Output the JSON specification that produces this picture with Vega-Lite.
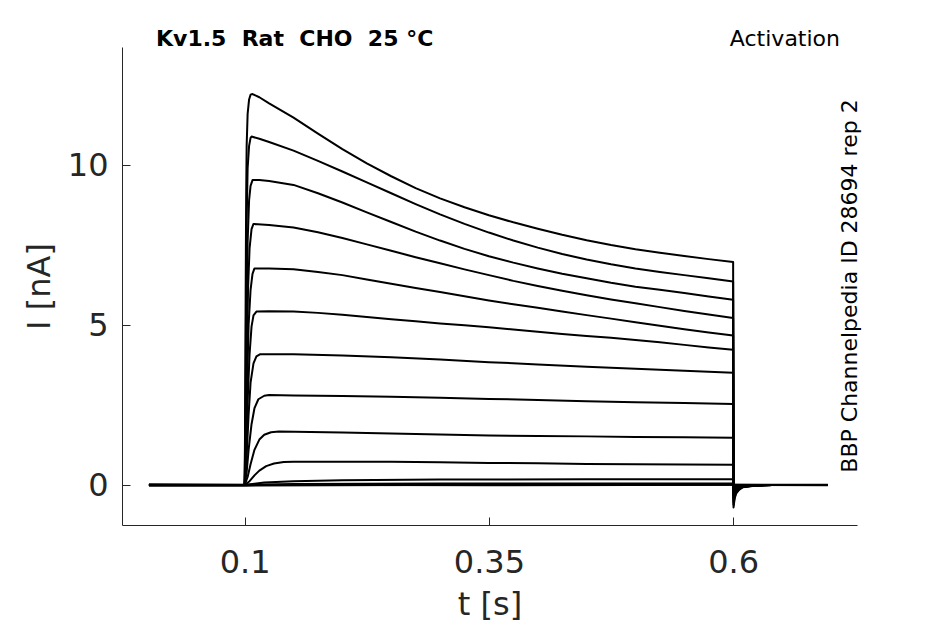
{
  "$schema": "https://vega.github.io/schema/vega-lite/v6.json",
  "autosize": {"type": "none"},
  "width": 735,
  "height": 478,
  "padding": {"left": 122, "top": 47, "right": 88, "bottom": 99},
  "background": "white",
  "layer": [
    {
      "data": {
        "values": [
          {"s":1,"t":0.002,"i":0},{"s":1,"t":0.05,"i":0},{"s":1,"t":0.1,"i":0},{"s":1,"t":0.1005,"i":2.5},{"s":1,"t":0.101,"i":6},{"s":1,"t":0.1015,"i":9},{"s":1,"t":0.102,"i":10.6},{"s":1,"t":0.103,"i":11.6},{"s":1,"t":0.1045,"i":12.05},{"s":1,"t":0.106,"i":12.2},{"s":1,"t":0.108,"i":12.22},{"s":1,"t":0.115,"i":12.12},{"s":1,"t":0.125,"i":11.93},{"s":1,"t":0.15,"i":11.48},{"s":1,"t":0.175,"i":10.98},{"s":1,"t":0.2,"i":10.5},{"s":1,"t":0.225,"i":10.05},{"s":1,"t":0.25,"i":9.65},{"s":1,"t":0.275,"i":9.28},{"s":1,"t":0.3,"i":8.96},{"s":1,"t":0.325,"i":8.68},{"s":1,"t":0.35,"i":8.43},{"s":1,"t":0.375,"i":8.21},{"s":1,"t":0.4,"i":8.01},{"s":1,"t":0.425,"i":7.82},{"s":1,"t":0.45,"i":7.65},{"s":1,"t":0.475,"i":7.5},{"s":1,"t":0.5,"i":7.37},{"s":1,"t":0.525,"i":7.26},{"s":1,"t":0.55,"i":7.16},{"s":1,"t":0.575,"i":7.06},{"s":1,"t":0.6,"i":6.97},{"s":1,"t":0.6004,"i":-0.7},{"s":1,"t":0.6015,"i":-0.43},{"s":1,"t":0.603,"i":-0.27},{"s":1,"t":0.606,"i":-0.15},{"s":1,"t":0.61,"i":-0.07},{"s":1,"t":0.62,"i":-0.03},{"s":1,"t":0.64,"i":0},{"s":1,"t":0.697,"i":0},
          {"s":2,"t":0.002,"i":0},{"s":2,"t":0.05,"i":0},{"s":2,"t":0.1,"i":0},{"s":2,"t":0.1007,"i":2.5},{"s":2,"t":0.1015,"i":6},{"s":2,"t":0.102,"i":8.2},{"s":2,"t":0.103,"i":9.9},{"s":2,"t":0.1045,"i":10.6},{"s":2,"t":0.106,"i":10.85},{"s":2,"t":0.107,"i":10.89},{"s":2,"t":0.115,"i":10.82},{"s":2,"t":0.125,"i":10.72},{"s":2,"t":0.15,"i":10.45},{"s":2,"t":0.175,"i":10.13},{"s":2,"t":0.2,"i":9.8},{"s":2,"t":0.225,"i":9.46},{"s":2,"t":0.25,"i":9.12},{"s":2,"t":0.275,"i":8.78},{"s":2,"t":0.3,"i":8.46},{"s":2,"t":0.325,"i":8.16},{"s":2,"t":0.35,"i":7.89},{"s":2,"t":0.375,"i":7.64},{"s":2,"t":0.4,"i":7.42},{"s":2,"t":0.425,"i":7.22},{"s":2,"t":0.45,"i":7.05},{"s":2,"t":0.475,"i":6.9},{"s":2,"t":0.5,"i":6.77},{"s":2,"t":0.525,"i":6.66},{"s":2,"t":0.55,"i":6.56},{"s":2,"t":0.575,"i":6.46},{"s":2,"t":0.6,"i":6.36},{"s":2,"t":0.6004,"i":-0.62},{"s":2,"t":0.6015,"i":-0.38},{"s":2,"t":0.603,"i":-0.24},{"s":2,"t":0.606,"i":-0.14},{"s":2,"t":0.61,"i":-0.06},{"s":2,"t":0.62,"i":-0.02},{"s":2,"t":0.64,"i":0},{"s":2,"t":0.697,"i":0},
          {"s":3,"t":0.002,"i":0},{"s":3,"t":0.05,"i":0},{"s":3,"t":0.1,"i":0},{"s":3,"t":0.101,"i":2.5},{"s":3,"t":0.102,"i":5.5},{"s":3,"t":0.103,"i":7.6},{"s":3,"t":0.1045,"i":8.9},{"s":3,"t":0.106,"i":9.35},{"s":3,"t":0.108,"i":9.53},{"s":3,"t":0.115,"i":9.53},{"s":3,"t":0.125,"i":9.5},{"s":3,"t":0.15,"i":9.38},{"s":3,"t":0.175,"i":9.12},{"s":3,"t":0.2,"i":8.83},{"s":3,"t":0.225,"i":8.52},{"s":3,"t":0.25,"i":8.22},{"s":3,"t":0.275,"i":7.92},{"s":3,"t":0.3,"i":7.64},{"s":3,"t":0.325,"i":7.38},{"s":3,"t":0.35,"i":7.15},{"s":3,"t":0.375,"i":6.95},{"s":3,"t":0.4,"i":6.77},{"s":3,"t":0.425,"i":6.6},{"s":3,"t":0.45,"i":6.46},{"s":3,"t":0.475,"i":6.32},{"s":3,"t":0.5,"i":6.2},{"s":3,"t":0.525,"i":6.1},{"s":3,"t":0.55,"i":6.0},{"s":3,"t":0.575,"i":5.89},{"s":3,"t":0.6,"i":5.79},{"s":3,"t":0.6004,"i":-0.55},{"s":3,"t":0.6015,"i":-0.34},{"s":3,"t":0.603,"i":-0.21},{"s":3,"t":0.606,"i":-0.12},{"s":3,"t":0.61,"i":-0.06},{"s":3,"t":0.62,"i":-0.02},{"s":3,"t":0.64,"i":0},{"s":3,"t":0.697,"i":0},
          {"s":4,"t":0.002,"i":0},{"s":4,"t":0.05,"i":0},{"s":4,"t":0.1,"i":0},{"s":4,"t":0.101,"i":1.5},{"s":4,"t":0.102,"i":3.8},{"s":4,"t":0.1035,"i":6.2},{"s":4,"t":0.105,"i":7.4},{"s":4,"t":0.107,"i":8.0},{"s":4,"t":0.109,"i":8.16},{"s":4,"t":0.125,"i":8.13},{"s":4,"t":0.15,"i":8.05},{"s":4,"t":0.175,"i":7.9},{"s":4,"t":0.2,"i":7.72},{"s":4,"t":0.225,"i":7.52},{"s":4,"t":0.25,"i":7.32},{"s":4,"t":0.275,"i":7.12},{"s":4,"t":0.3,"i":6.93},{"s":4,"t":0.325,"i":6.74},{"s":4,"t":0.35,"i":6.56},{"s":4,"t":0.375,"i":6.38},{"s":4,"t":0.4,"i":6.22},{"s":4,"t":0.425,"i":6.07},{"s":4,"t":0.45,"i":5.93},{"s":4,"t":0.475,"i":5.8},{"s":4,"t":0.5,"i":5.68},{"s":4,"t":0.525,"i":5.56},{"s":4,"t":0.55,"i":5.44},{"s":4,"t":0.575,"i":5.33},{"s":4,"t":0.6,"i":5.22},{"s":4,"t":0.6004,"i":-0.47},{"s":4,"t":0.6015,"i":-0.29},{"s":4,"t":0.603,"i":-0.18},{"s":4,"t":0.606,"i":-0.1},{"s":4,"t":0.61,"i":-0.05},{"s":4,"t":0.62,"i":-0.02},{"s":4,"t":0.64,"i":0},{"s":4,"t":0.697,"i":0},
          {"s":5,"t":0.002,"i":0},{"s":5,"t":0.05,"i":0},{"s":5,"t":0.1,"i":0},{"s":5,"t":0.101,"i":1.0},{"s":5,"t":0.102,"i":2.6},{"s":5,"t":0.104,"i":5.0},{"s":5,"t":0.106,"i":6.1},{"s":5,"t":0.108,"i":6.6},{"s":5,"t":0.11,"i":6.77},{"s":5,"t":0.125,"i":6.77},{"s":5,"t":0.15,"i":6.74},{"s":5,"t":0.175,"i":6.66},{"s":5,"t":0.2,"i":6.56},{"s":5,"t":0.225,"i":6.42},{"s":5,"t":0.25,"i":6.29},{"s":5,"t":0.275,"i":6.16},{"s":5,"t":0.3,"i":6.03},{"s":5,"t":0.325,"i":5.9},{"s":5,"t":0.35,"i":5.77},{"s":5,"t":0.375,"i":5.65},{"s":5,"t":0.4,"i":5.54},{"s":5,"t":0.425,"i":5.42},{"s":5,"t":0.45,"i":5.31},{"s":5,"t":0.475,"i":5.2},{"s":5,"t":0.5,"i":5.09},{"s":5,"t":0.525,"i":4.98},{"s":5,"t":0.55,"i":4.87},{"s":5,"t":0.575,"i":4.77},{"s":5,"t":0.6,"i":4.67},{"s":5,"t":0.6004,"i":-0.4},{"s":5,"t":0.6015,"i":-0.25},{"s":5,"t":0.603,"i":-0.15},{"s":5,"t":0.606,"i":-0.09},{"s":5,"t":0.61,"i":-0.04},{"s":5,"t":0.62,"i":-0.02},{"s":5,"t":0.64,"i":0},{"s":5,"t":0.697,"i":0},
          {"s":6,"t":0.002,"i":0},{"s":6,"t":0.05,"i":0},{"s":6,"t":0.1,"i":0},{"s":6,"t":0.1015,"i":1.0},{"s":6,"t":0.103,"i":2.6},{"s":6,"t":0.105,"i":4.1},{"s":6,"t":0.107,"i":4.95},{"s":6,"t":0.109,"i":5.3},{"s":6,"t":0.112,"i":5.42},{"s":6,"t":0.125,"i":5.43},{"s":6,"t":0.15,"i":5.42},{"s":6,"t":0.175,"i":5.38},{"s":6,"t":0.2,"i":5.32},{"s":6,"t":0.225,"i":5.25},{"s":6,"t":0.25,"i":5.18},{"s":6,"t":0.275,"i":5.12},{"s":6,"t":0.3,"i":5.05},{"s":6,"t":0.325,"i":4.99},{"s":6,"t":0.35,"i":4.93},{"s":6,"t":0.375,"i":4.86},{"s":6,"t":0.4,"i":4.79},{"s":6,"t":0.425,"i":4.72},{"s":6,"t":0.45,"i":4.66},{"s":6,"t":0.475,"i":4.6},{"s":6,"t":0.5,"i":4.53},{"s":6,"t":0.525,"i":4.46},{"s":6,"t":0.55,"i":4.38},{"s":6,"t":0.575,"i":4.3},{"s":6,"t":0.6,"i":4.23},{"s":6,"t":0.6004,"i":-0.32},{"s":6,"t":0.6015,"i":-0.2},{"s":6,"t":0.603,"i":-0.12},{"s":6,"t":0.606,"i":-0.07},{"s":6,"t":0.61,"i":-0.03},{"s":6,"t":0.62,"i":-0.01},{"s":6,"t":0.64,"i":0},{"s":6,"t":0.697,"i":0},
          {"s":7,"t":0.002,"i":0},{"s":7,"t":0.05,"i":0},{"s":7,"t":0.1,"i":0},{"s":7,"t":0.102,"i":0.9},{"s":7,"t":0.104,"i":2.2},{"s":7,"t":0.106,"i":3.2},{"s":7,"t":0.109,"i":3.8},{"s":7,"t":0.112,"i":4.02},{"s":7,"t":0.116,"i":4.09},{"s":7,"t":0.15,"i":4.09},{"s":7,"t":0.2,"i":4.05},{"s":7,"t":0.25,"i":3.99},{"s":7,"t":0.3,"i":3.92},{"s":7,"t":0.35,"i":3.84},{"s":7,"t":0.4,"i":3.77},{"s":7,"t":0.45,"i":3.7},{"s":7,"t":0.5,"i":3.63},{"s":7,"t":0.55,"i":3.57},{"s":7,"t":0.6,"i":3.51},{"s":7,"t":0.6004,"i":-0.25},{"s":7,"t":0.6015,"i":-0.16},{"s":7,"t":0.603,"i":-0.1},{"s":7,"t":0.606,"i":-0.06},{"s":7,"t":0.61,"i":-0.03},{"s":7,"t":0.62,"i":-0.01},{"s":7,"t":0.64,"i":0},{"s":7,"t":0.697,"i":0},
          {"s":8,"t":0.002,"i":0},{"s":8,"t":0.05,"i":0},{"s":8,"t":0.1,"i":0},{"s":8,"t":0.102,"i":0.4},{"s":8,"t":0.104,"i":1.1},{"s":8,"t":0.107,"i":1.9},{"s":8,"t":0.11,"i":2.4},{"s":8,"t":0.114,"i":2.68},{"s":8,"t":0.12,"i":2.79},{"s":8,"t":0.125,"i":2.81},{"s":8,"t":0.15,"i":2.8},{"s":8,"t":0.2,"i":2.78},{"s":8,"t":0.25,"i":2.76},{"s":8,"t":0.3,"i":2.73},{"s":8,"t":0.35,"i":2.69},{"s":8,"t":0.4,"i":2.66},{"s":8,"t":0.45,"i":2.62},{"s":8,"t":0.5,"i":2.59},{"s":8,"t":0.55,"i":2.56},{"s":8,"t":0.6,"i":2.53},{"s":8,"t":0.6004,"i":-0.17},{"s":8,"t":0.6015,"i":-0.11},{"s":8,"t":0.603,"i":-0.06},{"s":8,"t":0.606,"i":-0.04},{"s":8,"t":0.61,"i":-0.02},{"s":8,"t":0.62,"i":0},{"s":8,"t":0.697,"i":0},
          {"s":9,"t":0.002,"i":0},{"s":9,"t":0.05,"i":0},{"s":9,"t":0.1,"i":0},{"s":9,"t":0.103,"i":0.25},{"s":9,"t":0.106,"i":0.65},{"s":9,"t":0.11,"i":1.1},{"s":9,"t":0.115,"i":1.42},{"s":9,"t":0.12,"i":1.57},{"s":9,"t":0.127,"i":1.65},{"s":9,"t":0.135,"i":1.67},{"s":9,"t":0.2,"i":1.64},{"s":9,"t":0.25,"i":1.61},{"s":9,"t":0.3,"i":1.58},{"s":9,"t":0.35,"i":1.55},{"s":9,"t":0.4,"i":1.53},{"s":9,"t":0.45,"i":1.52},{"s":9,"t":0.5,"i":1.5},{"s":9,"t":0.55,"i":1.49},{"s":9,"t":0.6,"i":1.48},{"s":9,"t":0.6004,"i":-0.1},{"s":9,"t":0.6015,"i":-0.06},{"s":9,"t":0.603,"i":-0.04},{"s":9,"t":0.606,"i":-0.02},{"s":9,"t":0.61,"i":-0.01},{"s":9,"t":0.62,"i":0},{"s":9,"t":0.697,"i":0},
          {"s":10,"t":0.002,"i":0},{"s":10,"t":0.05,"i":0},{"s":10,"t":0.1,"i":0},{"s":10,"t":0.105,"i":0.12},{"s":10,"t":0.11,"i":0.3},{"s":10,"t":0.115,"i":0.45},{"s":10,"t":0.122,"i":0.59},{"s":10,"t":0.13,"i":0.67},{"s":10,"t":0.14,"i":0.72},{"s":10,"t":0.15,"i":0.73},{"s":10,"t":0.2,"i":0.73},{"s":10,"t":0.25,"i":0.73},{"s":10,"t":0.3,"i":0.71},{"s":10,"t":0.35,"i":0.69},{"s":10,"t":0.4,"i":0.68},{"s":10,"t":0.45,"i":0.66},{"s":10,"t":0.5,"i":0.65},{"s":10,"t":0.55,"i":0.64},{"s":10,"t":0.6,"i":0.63},{"s":10,"t":0.6004,"i":-0.05},{"s":10,"t":0.6015,"i":-0.03},{"s":10,"t":0.603,"i":-0.02},{"s":10,"t":0.606,"i":-0.01},{"s":10,"t":0.61,"i":0},{"s":10,"t":0.697,"i":0},
          {"s":11,"t":0.002,"i":0},{"s":11,"t":0.1,"i":0},{"s":11,"t":0.11,"i":0.04},{"s":11,"t":0.12,"i":0.08},{"s":11,"t":0.15,"i":0.12},{"s":11,"t":0.2,"i":0.15},{"s":11,"t":0.3,"i":0.17},{"s":11,"t":0.45,"i":0.18},{"s":11,"t":0.6,"i":0.18},{"s":11,"t":0.6004,"i":-0.02},{"s":11,"t":0.61,"i":0},{"s":11,"t":0.697,"i":0},
          {"s":12,"t":0.002,"i":0},{"s":12,"t":0.1,"i":0},{"s":12,"t":0.15,"i":0.03},{"s":12,"t":0.3,"i":0.05},{"s":12,"t":0.6,"i":0.05},{"s":12,"t":0.6004,"i":0},{"s":12,"t":0.697,"i":0},
          {"s":13,"t":0.002,"i":-0.02},{"s":13,"t":0.1,"i":-0.02},{"s":13,"t":0.35,"i":0.01},{"s":13,"t":0.6,"i":0.01},{"s":13,"t":0.697,"i":-0.01},
          {"s":14,"t":0.002,"i":0.02},{"s":14,"t":0.35,"i":-0.01},{"s":14,"t":0.697,"i":0.01}
        ]
      },
      "mark": {"type": "line", "color": "black", "strokeWidth": 2, "strokeJoin": "round"},
      "encoding": {
        "x": {
          "field": "t",
          "type": "quantitative",
          "scale": {"domain": [-0.0256, 0.7268], "nice": false, "zero": false},
          "axis": {
            "values": [0.1, 0.35, 0.6],
            "format": "~g",
            "title": "t [s]",
            "titleY": 89,
            "titleBaseline": "alphabetic",
            "labelPadding": 30
          }
        },
        "y": {
          "field": "i",
          "type": "quantitative",
          "scale": {"domain": [-1.25, 13.69], "nice": false, "zero": false},
          "axis": {
            "values": [0, 5, 10],
            "title": "I [nA]",
            "titleX": -73,
            "titleAngle": 270,
            "titleBaseline": "alphabetic",
            "labelPadding": 22
          }
        },
        "detail": {"field": "s", "type": "nominal"}
      }
    },
    {
      "data": {"values": [{"label": "Kv1.5\u00a0\u00a0Rat\u00a0\u00a0CHO\u00a0\u00a025\u00a0°C"}]},
      "mark": {"type": "text", "align": "left", "baseline": "alphabetic", "fontSize": 22, "fontWeight": "bold", "font": "DejaVu Sans", "color": "black", "dy": -1},
      "encoding": {
        "x": {"datum": 0.0092, "type": "quantitative"},
        "y": {"datum": 13.69, "type": "quantitative"},
        "text": {"field": "label"}
      }
    },
    {
      "data": {"values": [{"label": "Activation"}]},
      "mark": {"type": "text", "align": "right", "baseline": "alphabetic", "fontSize": 22, "font": "DejaVu Sans", "color": "black", "dy": -1},
      "encoding": {
        "x": {"datum": 0.7094, "type": "quantitative"},
        "y": {"datum": 13.69, "type": "quantitative"},
        "text": {"field": "label"}
      }
    },
    {
      "data": {"values": [{"label": "BBP Channelpedia ID 28694 rep 2"}]},
      "mark": {"type": "text", "align": "center", "baseline": "alphabetic", "angle": 270, "fontSize": 22, "font": "DejaVu Sans", "color": "black"},
      "encoding": {
        "x": {"datum": 0.7268, "type": "quantitative"},
        "y": {"datum": 6.22, "type": "quantitative"},
        "text": {"field": "label"}
      }
    }
  ],
  "config": {
    "view": {"stroke": null},
    "axis": {
      "grid": false,
      "domainColor": "#262626",
      "domainWidth": 1,
      "tickColor": "#262626",
      "tickSize": -8,
      "tickWidth": 1,
      "labelColor": "#262626",
      "labelFont": "DejaVu Sans",
      "labelFontSize": 32,
      "titleColor": "#262626",
      "titleFont": "DejaVu Sans",
      "titleFontSize": 32,
      "titleFontWeight": "normal"
    }
  }
}
